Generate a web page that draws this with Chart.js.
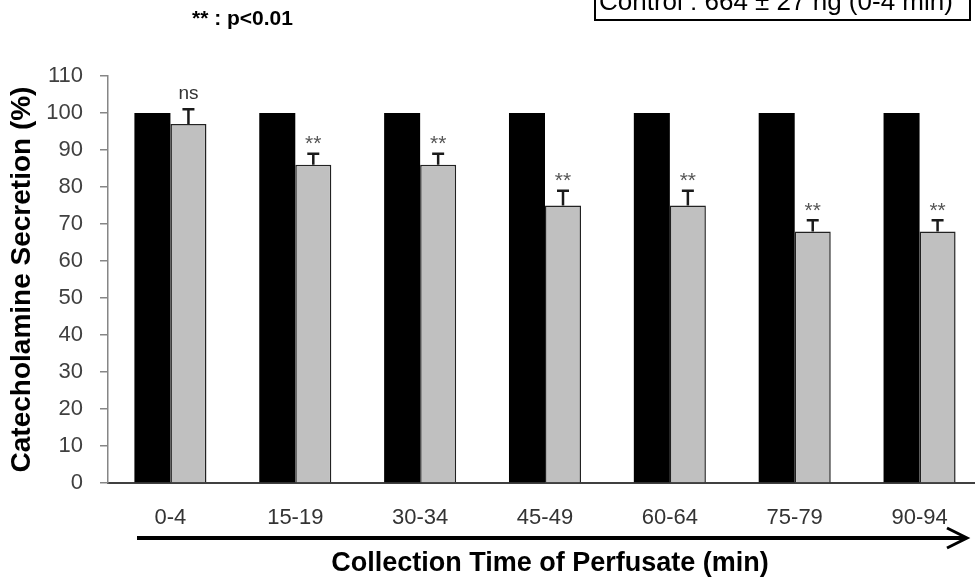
<!DOCTYPE html>
<html>
<head>
<meta charset="utf-8">
<script src="https://cdn.jsdelivr.net/npm/chart.js@4"></script>
<style>
  html, body { margin: 0; padding: 0; background: #fff; overflow: hidden; }
  canvas { display: block; }
</style>
</head>
<body>
<canvas id="chart" width="1000" height="580"></canvas>
<script>
// data
const times = ['0-4', '15-19', '30-34', '45-49', '60-64', '75-79', '90-94'];
const control = [100, 100, 100, 100, 100, 100, 100];
const treated = [97, 86, 86, 75, 75, 68, 68];
const treatedErr = [4, 3, 3, 4, 4, 3, 3];
const signif = ['ns', '**', '**', '**', '**', '**', '**'];
const yTicks = [0, 10, 20, 30, 40, 50, 60, 70, 80, 90, 100, 110];

const sans = '"Liberation Sans", Arial, sans-serif';

// error bars, ns / ** marks, note texts, arrow and x title
const extras = {
  id: 'extras',
  afterDatasetsDraw(chart) {
    const ctx = chart.ctx;
    const y = chart.scales.y;
    const meta = chart.getDatasetMeta(1);
    ctx.save();
    meta.data.forEach((bar, i) => {
      const top = y.getPixelForValue(treated[i] + treatedErr[i]);
      const base = y.getPixelForValue(treated[i]);
      ctx.strokeStyle = '#1a1a1a';
      ctx.lineWidth = 2.5;
      ctx.beginPath();
      ctx.moveTo(bar.x, base);
      ctx.lineTo(bar.x, top);
      ctx.moveTo(bar.x - 6, top);
      ctx.lineTo(bar.x + 6, top);
      ctx.stroke();
      ctx.textAlign = 'center';
      ctx.textBaseline = 'middle';
      if (signif[i] == 'ns') {
        ctx.fillStyle = '#333';
        ctx.font = '19px ' + sans;
        ctx.fillText('ns', bar.x, top - 16);
      } else {
        ctx.fillStyle = '#555';
        ctx.font = '21px ' + sans;
        ctx.fillText(signif[i], bar.x, top - 9);
      }
    });

    // p value note
    ctx.fillStyle = '#000';
    ctx.textAlign = 'left';
    ctx.textBaseline = 'alphabetic';
    ctx.font = 'bold 21px ' + sans;
    ctx.fillText('** : p<0.01', 192, 25);

    // control box (cut off at the top)
    ctx.strokeStyle = '#000';
    ctx.lineWidth = 2;
    ctx.strokeRect(595, -10, 375, 30);
    ctx.font = '26px ' + sans;
    ctx.fillText('Control : 664 \u00b1 27 ng (0-4 min)', 599, 10);

    // arrow under the x labels
    ctx.lineWidth = 4;
    ctx.beginPath();
    ctx.moveTo(137, 538);
    ctx.lineTo(966, 538);
    ctx.stroke();
    ctx.lineWidth = 3;
    ctx.beginPath();
    ctx.moveTo(947, 528);
    ctx.lineTo(967, 538);
    ctx.lineTo(947, 548);
    ctx.stroke();

    ctx.textAlign = 'center';
    ctx.textBaseline = 'middle';
    ctx.font = 'bold 27px ' + sans;
    ctx.fillText('Collection Time of Perfusate (min)', 550, 564);
    ctx.restore();
  }
};

new Chart(document.getElementById('chart'), {
  type: 'bar',
  data: {
    labels: times,
    datasets: [
      {
        label: 'Control',
        data: control,
        backgroundColor: '#000',
        borderColor: '#000',
        borderWidth: 0,
        categoryPercentage: 0.577,
        barPercentage: 1
      },
      {
        label: 'Treated',
        data: treated,
        backgroundColor: '#c0c0c0',
        borderColor: '#222',
        borderWidth: 1.5,
        borderSkipped: 'bottom',
        categoryPercentage: 0.577,
        barPercentage: 1
      }
    ]
  },
  plugins: [extras],
  options: {
    responsive: false,
    animation: false,
    layout: { padding: { top: 76, right: 18, left: 0, bottom: 0 } },
    plugins: { legend: { display: false }, tooltip: { enabled: false } },
    scales: {
      x: {
        grid: { display: false },
        border: { display: true, color: '#404040', width: 2 },
        ticks: { color: '#333', font: { family: sans, size: 22 }, padding: 14, maxRotation: 0 },
        afterFit: s => { s.height = 97; }
      },
      y: {
        min: 0,
        max: 110,
        afterBuildTicks: s => { s.ticks = yTicks.map(v => ({ value: v })); },
        grid: { drawOnChartArea: false, tickLength: 8, color: '#868686', lineWidth: 1.5 },
        border: { display: true, color: '#868686', width: 1.5 },
        ticks: { color: '#404040', font: { family: sans, size: 22 }, padding: 17 },
        title: {
          display: true,
          text: 'Catecholamine Secretion (%)',
          color: '#000',
          font: { family: sans, size: 28, weight: 'bold' },
          padding: { top: 5, bottom: 0 }
        },
        afterFit: s => { s.width = 108; }
      }
    }
  }
});
</script>
</body>
</html>
